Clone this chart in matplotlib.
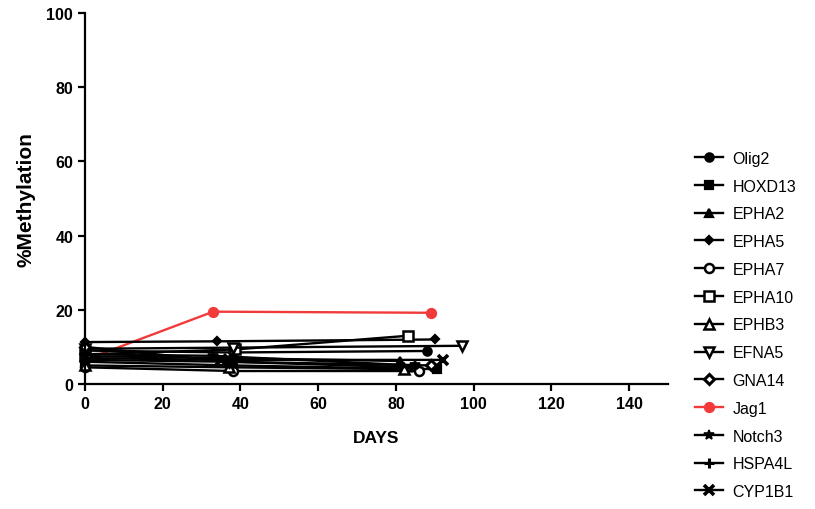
import matplotlib
matplotlib.use("Agg")
import matplotlib.pyplot as plt

plt.rcParams['font.family'] = ['Liberation Sans', 'DejaVu Sans']

genes = ["Olig2", "HOXD13", "EPHA2", "EPHA5", "EPHA7", "EPHA10", "EPHB3",
         "EFNA5", "GNA14", "Jag1", "Notch3", "HSPA4L", "CYP1B1"]

days = {
    "Olig2":  [0, 38, 88],
    "HOXD13": [0, 38, 90.5],
    "EPHA2":  [0, 36, 81],
    "EPHA5":  [0, 34, 90],
    "EPHA7":  [0, 38, 86],
    "EPHA10": [0, 38.6, 83],
    "EPHB3":  [0, 37, 82],
    "EFNA5":  [0, 38, 97],
    "GNA14":  [0, 37, 89],
    "Jag1":   [0, 33, 89],
    "Notch3": [0, 33, 85],
    "HSPA4L": [0, 37, 84],
    "CYP1B1": [0, 35, 92],
}
methylation = {
    "Olig2":  [9.0, 8.5, 8.9],
    "HOXD13": [6.0, 5.0, 4.0],
    "EPHA2":  [7.5, 7.0, 6.2],
    "EPHA5":  [11.3, 11.5, 12.0],
    "EPHA7":  [4.5, 3.5, 3.5],
    "EPHA10": [8.0, 9.3, 13.0],
    "EPHB3":  [5.0, 4.5, 4.0],
    "EFNA5":  [9.5, 9.8, 10.3],
    "GNA14":  [10.0, 6.0, 5.0],
    "Jag1":   [6.5, 19.5, 19.2],
    "Notch3": [8.0, 7.6, 5.0],
    "HSPA4L": [6.5, 6.0, 4.5],
    "CYP1B1": [7.0, 6.5, 6.5],
}

# marker, filled?, size, edge width
styles = {
    "Olig2":  ('o', True, 6, 1.6),
    "HOXD13": ('s', True, 6, 1.6),
    "EPHA2":  ('^', True, 6, 1.6),
    "EPHA5":  ('D', True, 4.5, 1.6),
    "EPHA7":  ('o', False, 6.5, 1.8),
    "EPHA10": ('s', False, 6.5, 1.8),
    "EPHB3":  ('^', False, 7, 1.8),
    "EFNA5":  ('v', False, 7, 1.8),
    "GNA14":  ('D', False, 5.5, 2.2),
    "Jag1":   ('o', True, 6.5, 1.6),
    "Notch3": ('*', True, 7, 1.2),
    "HSPA4L": ('+', True, 7, 2.2),
    "CYP1B1": ('x', True, 6.5, 2.6),
}

fig = plt.figure(figsize=(8.15, 5.1), dpi=100)
ax = fig.add_axes([0.1043, 0.2451, 0.7153, 0.7274])

for g in genes:
    m, filled, ms, mew = styles[g]
    col = '#f23a3a' if g == "Jag1" else 'black'
    ax.plot(days[g], methylation[g], color=col, lw=1.7, marker=m, ms=ms,
            mfc=col if filled else 'white', mec=col, mew=mew,
            clip_on=False, label=g, zorder=1.5 if g == "Jag1" else 2)

ax.set_xlim(0, 150)
ax.set_ylim(0, 100)
ax.set_xticks(range(0, 141, 20))
ax.set_yticks(range(0, 101, 20))
for s in ['top', 'right']:
    ax.spines[s].set_visible(False)
for s in ['left', 'bottom']:
    ax.spines[s].set_linewidth(1.6)
ax.tick_params(width=1.6, length=5, labelsize=11.5)
for lab in ax.get_xticklabels() + ax.get_yticklabels():
    lab.set_fontweight('bold')

ax.set_xlabel("DAYS", fontsize=12.5, fontweight='bold', labelpad=14)
ax.set_ylabel("%Methylation", fontsize=15, fontweight='bold', labelpad=8)

fig.legend(loc='upper left', bbox_to_anchor=(0.845, 0.715), frameon=False,
           fontsize=11.5, handlelength=1.75, labelspacing=0.80,
           handletextpad=0.6, borderaxespad=0)

fig.savefig("out.png", dpi=100)
